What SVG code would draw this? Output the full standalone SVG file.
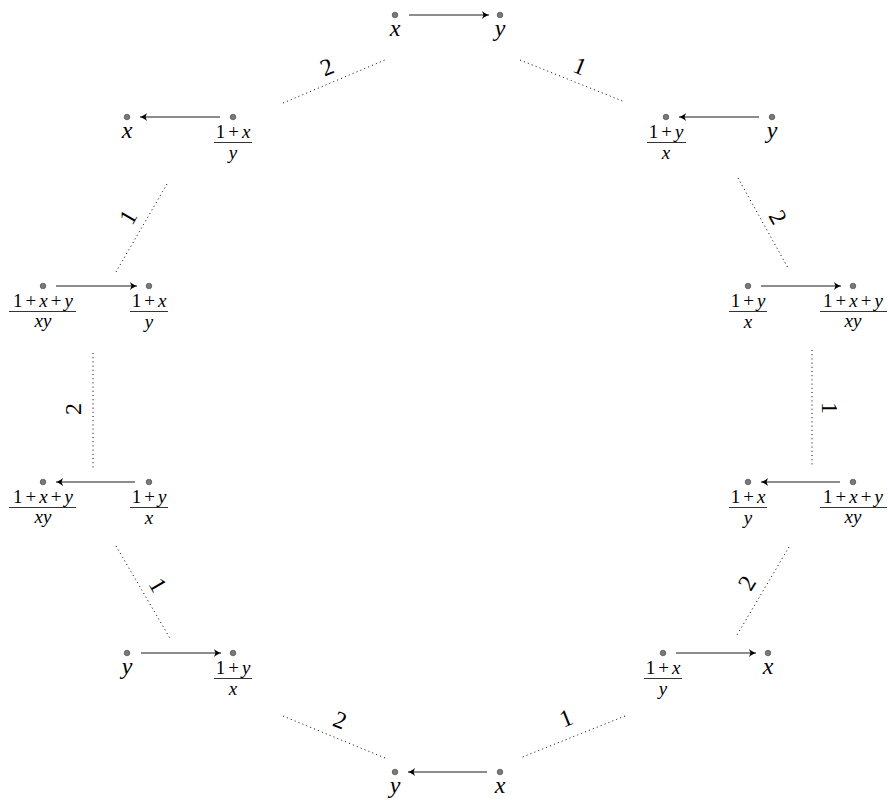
<svg xmlns="http://www.w3.org/2000/svg" width="888" height="800" viewBox="0 0 888 800" font-family="'Liberation Serif', 'Times New Roman', serif">
<defs>
<style>
text{font-family:'Liberation Serif','Times New Roman',serif}
.dot{fill:#7a7a7a;stroke:#3a3a3a;stroke-width:0.6}
.lbl{font-size:24px;font-style:italic;text-anchor:middle;fill:#000}
.num{font-size:19px;text-anchor:middle;fill:#000}
.den{font-size:19px;font-style:italic;text-anchor:middle;fill:#000}
.i{font-style:italic}
.bar{stroke:#000;stroke-width:0.8}
.arr{stroke:#1a1a1a;stroke-width:1;fill:none;marker-end:url(#ah)}
.dl{stroke:#000;stroke-width:1;stroke-dasharray:1 3.2;fill:none}
.el{font-size:24px;text-anchor:middle;dominant-baseline:central;fill:#000}
</style>
<marker id="ah" viewBox="-8 -5 10 10" refX="0" refY="0" markerWidth="10" markerHeight="10" markerUnits="userSpaceOnUse" orient="auto">
<path d="M0,0 C-2,-0.6 -4.5,-2 -7,-4 L-5.5,0 L-7,4 C-4.5,2 -2,0.6 0,0 Z" fill="#000"/>
</marker>
</defs>
<rect width="888" height="800" fill="#fff"/>

<g id="connectors">
<line class="arr" x1="409" y1="15" x2="489" y2="15"/>
<line class="arr" x1="220" y1="117" x2="140" y2="117"/>
<line class="arr" x1="759" y1="117" x2="679" y2="117"/>
<line class="arr" x1="56" y1="286" x2="137" y2="286"/>
<line class="arr" x1="761" y1="286" x2="841" y2="286"/>
<line class="arr" x1="135" y1="482" x2="56" y2="482"/>
<line class="arr" x1="840" y1="482" x2="761" y2="482"/>
<line class="arr" x1="141" y1="653" x2="221" y2="653"/>
<line class="arr" x1="676" y1="653" x2="756" y2="653"/>
<line class="arr" x1="487" y1="772" x2="408" y2="772"/>

<line class="dl" x1="283" y1="103" x2="385" y2="60"/>
<line class="dl" x1="520" y1="60" x2="625" y2="102"/>
<line class="dl" x1="167" y1="184" x2="116" y2="272"/>
<line class="dl" x1="738" y1="178" x2="788" y2="268"/>
<line class="dl" x1="93" y1="353" x2="93" y2="468"/>
<line class="dl" x1="812" y1="350" x2="812" y2="467"/>
<line class="dl" x1="116" y1="546" x2="171" y2="640"/>
<line class="dl" x1="789" y1="547" x2="737" y2="635"/>
<line class="dl" x1="283" y1="716" x2="385" y2="758"/>
<line class="dl" x1="625" y1="716" x2="520" y2="758"/>

<text class="el" transform="translate(327,67) rotate(-23)">2</text>
<text class="el" transform="translate(580,66) rotate(22)">1</text>
<text class="el" transform="translate(128,217) rotate(-60)">1</text>
<text class="el" transform="translate(778,217) rotate(61)">2</text>
<text class="el" transform="translate(73,409) rotate(-90)">2</text>
<text class="el" transform="translate(830,408) rotate(90)">1</text>
<text class="el" transform="translate(158,585) rotate(60)">1</text>
<text class="el" transform="translate(747,583) rotate(-59)">2</text>
<text class="el" transform="translate(340,720) rotate(22)">2</text>
<text class="el" transform="translate(566,718) rotate(-22)">1</text>
</g>

<!-- top row -->
<g id="n-top-x"><circle class="dot" cx="395" cy="15" r="2.8"/><text class="lbl" x="395" y="36">x</text></g>
<g id="n-top-y"><circle class="dot" cx="500" cy="15" r="2.8"/><text class="lbl" x="500" y="36">y</text></g>

<!-- row 2 -->
<g id="n-b1"><circle class="dot" cx="127" cy="117" r="2.8"/><text class="lbl" x="127" y="138">x</text></g>
<g id="n-b2"><circle class="dot" cx="233" cy="117" r="2.8"/>
<text class="num" x="233" y="138">1<tspan dx="3">+</tspan><tspan class="i" dx="3">x</tspan></text>
<line class="bar" x1="214" y1="142.5" x2="252" y2="142.5"/>
<text class="den" x="233" y="159">y</text></g>
<g id="n-c1"><circle class="dot" cx="666" cy="117" r="2.8"/>
<text class="num" x="666" y="138">1<tspan dx="3">+</tspan><tspan class="i" dx="3">y</tspan></text>
<line class="bar" x1="647" y1="142.5" x2="686" y2="142.5"/>
<text class="den" x="666" y="159">x</text></g>
<g id="n-c2"><circle class="dot" cx="772" cy="117" r="2.8"/><text class="lbl" x="772" y="138">y</text></g>

<!-- row 3 -->
<g id="n-d1"><circle class="dot" cx="43" cy="286" r="2.8"/>
<text class="num" x="43" y="307">1<tspan dx="3">+</tspan><tspan class="i" dx="3">x</tspan><tspan dx="3">+</tspan><tspan class="i" dx="3">y</tspan></text>
<line class="bar" x1="9" y1="311.5" x2="76" y2="311.5"/>
<text class="den" x="43" y="327">xy</text></g>
<g id="n-d2"><circle class="dot" cx="149" cy="286" r="2.8"/>
<text class="num" x="149" y="307">1<tspan dx="3">+</tspan><tspan class="i" dx="3">x</tspan></text>
<line class="bar" x1="130" y1="311.5" x2="168" y2="311.5"/>
<text class="den" x="149" y="328">y</text></g>
<g id="n-e1"><circle class="dot" cx="748" cy="286" r="2.8"/>
<text class="num" x="748" y="307">1<tspan dx="3">+</tspan><tspan class="i" dx="3">y</tspan></text>
<line class="bar" x1="729" y1="311.5" x2="767" y2="311.5"/>
<text class="den" x="748" y="328">x</text></g>
<g id="n-e2"><circle class="dot" cx="853" cy="286" r="2.8"/>
<text class="num" x="853" y="307">1<tspan dx="3">+</tspan><tspan class="i" dx="3">x</tspan><tspan dx="3">+</tspan><tspan class="i" dx="3">y</tspan></text>
<line class="bar" x1="820" y1="311.5" x2="887" y2="311.5"/>
<text class="den" x="853" y="327">xy</text></g>

<!-- row 4 -->
<g id="n-f1"><circle class="dot" cx="43" cy="482" r="2.8"/>
<text class="num" x="43" y="503">1<tspan dx="3">+</tspan><tspan class="i" dx="3">x</tspan><tspan dx="3">+</tspan><tspan class="i" dx="3">y</tspan></text>
<line class="bar" x1="9" y1="507.5" x2="76" y2="507.5"/>
<text class="den" x="43" y="523">xy</text></g>
<g id="n-f2"><circle class="dot" cx="149" cy="482" r="2.8"/>
<text class="num" x="149" y="503">1<tspan dx="3">+</tspan><tspan class="i" dx="3">y</tspan></text>
<line class="bar" x1="130" y1="507.5" x2="168" y2="507.5"/>
<text class="den" x="149" y="524">x</text></g>
<g id="n-g1"><circle class="dot" cx="748" cy="482" r="2.8"/>
<text class="num" x="748" y="503">1<tspan dx="3">+</tspan><tspan class="i" dx="3">x</tspan></text>
<line class="bar" x1="729" y1="507.5" x2="767" y2="507.5"/>
<text class="den" x="748" y="524">y</text></g>
<g id="n-g2"><circle class="dot" cx="853" cy="482" r="2.8"/>
<text class="num" x="853" y="503">1<tspan dx="3">+</tspan><tspan class="i" dx="3">x</tspan><tspan dx="3">+</tspan><tspan class="i" dx="3">y</tspan></text>
<line class="bar" x1="820" y1="507.5" x2="887" y2="507.5"/>
<text class="den" x="853" y="523">xy</text></g>

<!-- row 5 -->
<g id="n-h1"><circle class="dot" cx="127" cy="653" r="2.8"/><text class="lbl" x="127" y="674">y</text></g>
<g id="n-h2"><circle class="dot" cx="233" cy="653" r="2.8"/>
<text class="num" x="233" y="674">1<tspan dx="3">+</tspan><tspan class="i" dx="3">y</tspan></text>
<line class="bar" x1="214" y1="678.5" x2="252" y2="678.5"/>
<text class="den" x="233" y="695">x</text></g>
<g id="n-i1"><circle class="dot" cx="663" cy="653" r="2.8"/>
<text class="num" x="663" y="674">1<tspan dx="3">+</tspan><tspan class="i" dx="3">x</tspan></text>
<line class="bar" x1="644" y1="678.5" x2="682" y2="678.5"/>
<text class="den" x="663" y="695">y</text></g>
<g id="n-i2"><circle class="dot" cx="768" cy="653" r="2.8"/><text class="lbl" x="768" y="674">x</text></g>

<!-- bottom row -->
<g id="n-bot-y"><circle class="dot" cx="395" cy="772" r="2.8"/><text class="lbl" x="395" y="793">y</text></g>
<g id="n-bot-x"><circle class="dot" cx="500" cy="772" r="2.8"/><text class="lbl" x="500" y="793">x</text></g>
</svg>
